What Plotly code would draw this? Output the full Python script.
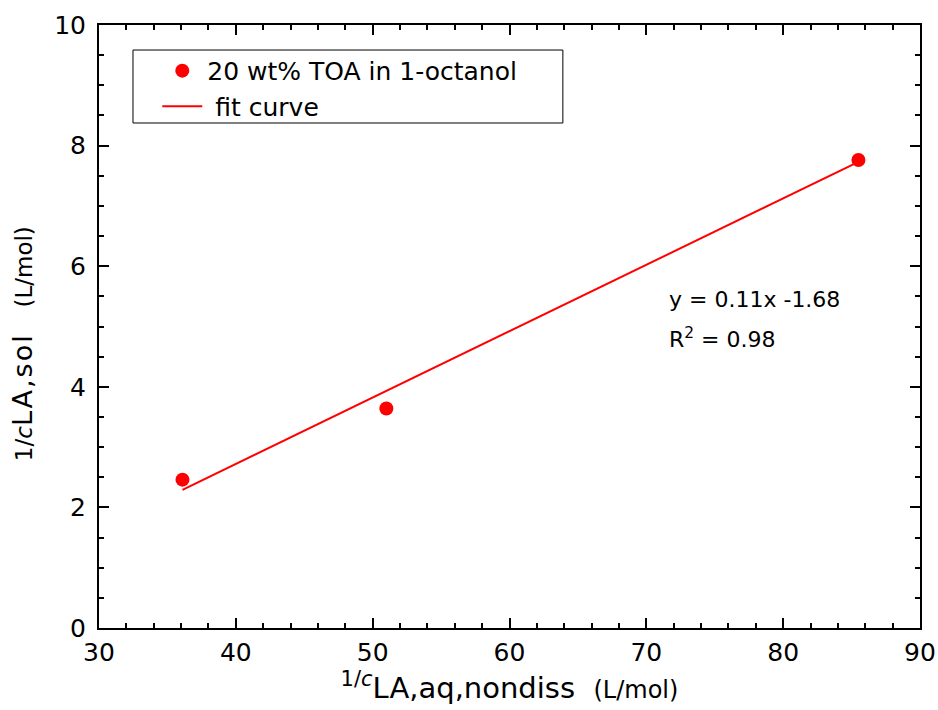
import plotly.graph_objects as go

# Data
x_data = [36.1, 51.0, 85.5]
y_data = [2.46, 3.64, 7.76]
fit_x = [36.1, 85.5]
fit_y = [2.29, 7.73]
series_name = "20 wt% TOA in 1-octanol"
fit_name = "&nbsp;fit curve"
eq_text = "y = 0.11x -1.68"
r2_text = "R<sup>2</sup> = 0.98"

FONT = "DejaVu Sans, Liberation Sans, Arial, sans-serif"
RED = "#ff0000"

fig = go.Figure()
fig.add_trace(go.Scatter(x=x_data, y=y_data, mode="markers", name=series_name,
                         marker=dict(color=RED, size=14, symbol="circle")))
fig.add_trace(go.Scatter(x=fit_x, y=fit_y, mode="lines", name=fit_name,
                         line=dict(color=RED, width=2)))

axis_common = dict(
    showline=True, linecolor="black", linewidth=2, mirror="ticks",
    ticks="inside", ticklen=10, tickwidth=2, tickcolor="black",
    showgrid=False, zeroline=False, automargin=False,
    tickfont=dict(family=FONT, size=25, color="black"),
    minor=dict(ticks="inside", ticklen=5, tickwidth=2, tickcolor="black", showgrid=False),
)

fig.update_xaxes(range=[30, 90], dtick=10, ticklabelstandoff=1, **axis_common,
                 title=dict(text="<sup><span style='font-size:21px'>1/<i>c</i></span></sup>LA,aq,nondiss  <span style='font-size:24px'>(L/mol)</span>",
                            font=dict(family=FONT, size=29, color="black"), standoff=2))
fig.update_yaxes(range=[0, 10], dtick=2, ticklabelstandoff=6, **axis_common,
                 title=dict(text="<span style='font-size:23px'>1/<i>c</i></span><span style='letter-spacing:2px'>LA,sol</span>&nbsp;&nbsp;&nbsp;<span style='font-size:23px'>(L/mol)</span>&nbsp;&nbsp;&nbsp;&nbsp;",
                            font=dict(family=FONT, size=27, color="black"), standoff=14))

fig.add_shape(type="rect", xref="paper", yref="paper",
              x0=0.0414, x1=0.565, y0=0.8375, y1=0.9585,
              line=dict(color="black", width=1), fillcolor="rgba(0,0,0,0)")

fig.add_annotation(xref="x", yref="y", x=71.5, y=5.44, xanchor="left", yanchor="middle",
                   text=eq_text, showarrow=False,
                   font=dict(family=FONT, size=22, color="black"))
fig.add_annotation(xref="x", yref="y", x=71.5, y=4.81, xanchor="left", yanchor="middle",
                   text=r2_text, showarrow=False,
                   font=dict(family=FONT, size=22, color="black"))

fig.update_layout(
    width=938, height=710,
    margin=dict(l=99, r=18, t=25, b=82),
    paper_bgcolor="white", plot_bgcolor="white",
    font=dict(family=FONT, color="black"),
    showlegend=True,
    legend=dict(x=0.071, y=0.962, xanchor="left", yanchor="top",
                bgcolor="rgba(0,0,0,0)", borderwidth=0,
                font=dict(family=FONT, size=25, color="black"),
                itemwidth=40, tracegroupgap=0),
)

fig.write_html("out.html", config={"displayModeBar": False},
               post_script="document.body.style.margin='0';document.body.style.overflow='hidden';")
